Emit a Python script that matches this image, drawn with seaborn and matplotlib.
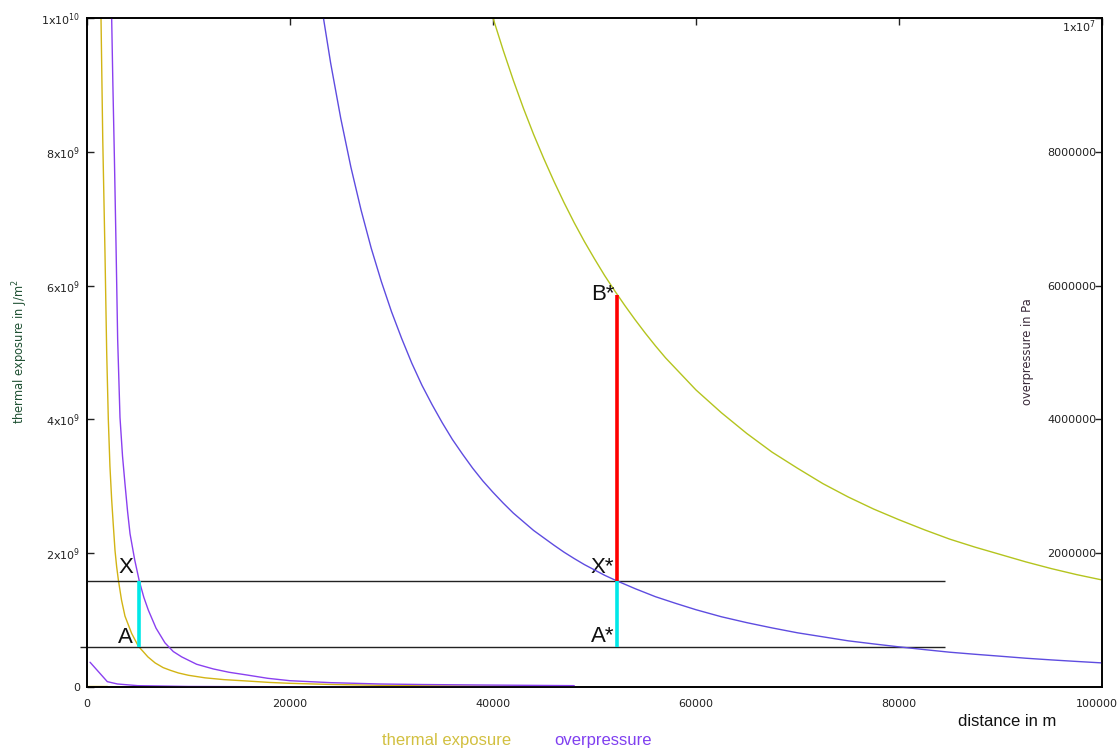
import numpy as np
import pandas as pd
import matplotlib
matplotlib.use("Agg")
import matplotlib.pyplot as plt
import matplotlib.transforms as mtransforms
import seaborn as sns

# ---- data (x in m) ----
# thermal exposure, J/m^2 (left axis)
thermal_near_x = [1200, 1380, 1550, 1770, 1940, 2100, 2260, 2430, 2600, 2760, 2920, 3090,
                  3400, 3740, 4400, 5060, 6000, 6710, 7500, 8200, 9000, 10000, 11630,
                  13500, 15730, 18000, 20000, 24000, 28870, 33000, 38700, 48000]
thermal_near_y = [13.0e9, 10.0e9, 8.2e9, 6.5e9, 5.0e9, 4.0e9, 3.3e9, 2.8e9, 2.4e9, 2.04e9,
                  1.8e9, 1.60e9, 1.3e9, 1.06e9, 0.80e9, 0.61e9, 0.45e9, 0.36e9, 0.29e9,
                  0.25e9, 0.21e9, 0.175e9, 0.137e9, 0.11e9, 0.09e9, 0.068e9, 0.055e9,
                  0.038e9, 0.025e9, 0.018e9, 0.012e9, 0.008e9]
thermal_far_x = [38000, 39000, 40000, 41000, 42000, 43000, 44000, 45000, 46000, 47000,
                 48000, 49000, 50000, 51000, 52000, 53000, 54000, 55000, 56000, 57000,
                 58000, 59000, 60000, 62500, 65000, 67500, 70000, 72500, 75000, 77500,
                 80000, 82500, 85000, 87500, 90000, 92500, 95000, 97500, 100000]
thermal_far_y = [11.08e9, 10.52e9, 10.0e9, 9.52e9, 9.07e9, 8.65e9, 8.26e9, 7.90e9, 7.56e9,
                 7.24e9, 6.94e9, 6.66e9, 6.40e9, 6.15e9, 5.92e9, 5.70e9, 5.49e9, 5.29e9,
                 5.10e9, 4.92e9, 4.76e9, 4.60e9, 4.44e9, 4.10e9, 3.79e9, 3.51e9, 3.27e9,
                 3.04e9, 2.84e9, 2.66e9, 2.50e9, 2.35e9, 2.21e9, 2.09e9, 1.98e9, 1.87e9,
                 1.77e9, 1.68e9, 1.60e9]
thermal_base_x = [100, 2000]
thermal_base_y = [0.02e9, 0.02e9]

# overpressure, Pa (right axis)
press_near_x = [2200, 2430, 2550, 2700, 2860, 3020, 3250, 3500, 3740, 4000, 4240, 4700,
                5150, 5600, 6040, 6800, 7680, 8500, 9330, 10800, 12440, 14000, 15730,
                17800, 20000, 24000, 28870, 33000, 38700, 48000]
press_near_y = [12.0e6, 10.0e6, 9.0e6, 7.9e6, 6.6e6, 5.2e6, 4.03e6, 3.45e6, 3.04e6, 2.62e6,
                2.29e6, 1.90e6, 1.585e6, 1.34e6, 1.15e6, 0.88e6, 0.66e6, 0.53e6, 0.45e6,
                0.34e6, 0.27e6, 0.22e6, 0.18e6, 0.13e6, 0.094e6, 0.065e6, 0.045e6,
                0.037e6, 0.03e6, 0.02e6]
press_far_x = [22000, 23000, 24000, 25000, 26000, 27000, 28000, 29000, 30000, 31000,
               32000, 33000, 34000, 35000, 36000, 37000, 38000, 39000, 40000, 41000,
               42000, 43000, 44000, 45000, 46000, 47000, 48000, 49000, 50000, 51000,
               52000, 54000, 56000, 58000, 60000, 62500, 65000, 67500, 70000, 72500,
               75000, 77500, 80000, 82500, 85000, 87500, 90000, 92500, 95000, 97500,
               100000]
press_far_y = [11.37e6, 10.28e6, 9.33e6, 8.50e6, 7.77e6, 7.13e6, 6.56e6, 6.06e6, 5.61e6,
               5.21e6, 4.84e6, 4.51e6, 4.22e6, 3.95e6, 3.70e6, 3.48e6, 3.27e6, 3.08e6,
               2.91e6, 2.75e6, 2.60e6, 2.47e6, 2.34e6, 2.23e6, 2.12e6, 2.015e6, 1.92e6,
               1.83e6, 1.75e6, 1.67e6, 1.60e6, 1.47e6, 1.35e6, 1.25e6, 1.155e6, 1.05e6,
               0.962e6, 0.883e6, 0.81e6, 0.75e6, 0.69e6, 0.644e6, 0.60e6, 0.559e6,
               0.52e6, 0.489e6, 0.46e6, 0.43e6, 0.405e6, 0.382e6, 0.36e6]
press_tail_x = [300, 2000, 3000, 5000, 10000, 20000, 35000, 48000]
press_tail_y = [0.37e6, 0.08e6, 0.045e6, 0.02e6, 0.008e6, 0.003e6, 0.001e6, 0.0005e6]

# guide lines (left-axis units)
level_A = 0.598e9
level_X = 1.585e9
level_B = 5.86e9
guide_end = 84500
x_near = 5100
x_far = 52200

x_ticks = [0, 20000, 40000, 60000, 80000, 100000]
left_ticks = [0, 2e9, 4e9, 6e9, 8e9, 1e10]
left_labels = ['0', r'$\mathregular{2x10^{9}}$', r'$\mathregular{4x10^{9}}$',
               r'$\mathregular{6x10^{9}}$', r'$\mathregular{8x10^{9}}$',
               r'$\mathregular{1x10^{10}}$']
right_ticks = [2e6, 4e6, 6e6, 8e6, 1e7]
right_labels = ['2000000', '4000000', '6000000', '8000000', r'$\mathregular{1x10^{7}}$']

# colours
c_therm_near = '#d2b414'
c_therm_far = '#b4c41e'
c_press_near = '#8a40f0'
c_press_far = '#5e4ce0'

sns.set_style('white')
plt.rcParams['font.family'] = ['DejaVu Sans']
plt.rcParams['mathtext.fontset'] = 'dejavusans'

fig = plt.figure(figsize=(11.2, 7.49), dpi=100)
ax = fig.add_axes([0.07768, 0.08278, 0.90625, 0.89319])
ax2 = ax.twinx()

def draw(axis, xs, ys, color):
    df = pd.DataFrame({'x': xs, 'y': ys})
    sns.lineplot(data=df, x='x', y='y', ax=axis, color=color, lw=1.0,
                 sort=False, estimator=None)

draw(ax, thermal_near_x, thermal_near_y, c_therm_near)
draw(ax, thermal_far_x, thermal_far_y, c_therm_far)
draw(ax, thermal_base_x, thermal_base_y, c_therm_near)
draw(ax2, press_near_x, press_near_y, c_press_near)
draw(ax2, press_far_x, press_far_y, c_press_far)
draw(ax2, press_tail_x, press_tail_y, c_press_near)

# guide lines
ax2.hlines([level_X / 1000], 0, guide_end, color='#222222', lw=1.0, zorder=1)
ax2.hlines([level_A / 1000], -700, guide_end, color='#222222', lw=1.0, zorder=1,
           clip_on=False)
ax2.vlines([x_near, x_far], level_A / 1000, level_X / 1000, color='#00e8e8', lw=2.6)
ax2.vlines([x_far], level_X / 1000, level_B / 1000, color='#ff0000', lw=2.6)

lab = dict(fontsize=16, family=['Liberation Sans', 'DejaVu Sans'], color='#111111',
           ha='right', va='center')
ax.text(4530, 1.78e9, 'X', **lab)
ax.text(4530, 0.74e9, 'A', **lab)
ax.text(51950, 1.78e9, 'X*', **lab)
ax.text(51950, 0.76e9, 'A*', **lab)
ax.text(51950, 5.86e9, 'B*', **lab)

ax.set_xlim(0, 100000)
ax.set_ylim(0, 1e10)
ax2.set_ylim(0, 1e7)
ax.set_xlabel('')
ax.set_ylabel('')
ax2.set_ylabel('')

ax.set_xticks(x_ticks)
ax.set_xticklabels([str(t) for t in x_ticks])
ax.set_yticks(left_ticks)
ax.set_yticklabels(left_labels)
ax2.set_yticks(right_ticks)
ax2.set_yticklabels(right_labels)

ax.tick_params(axis='x', direction='in', length=5, width=1, top=True, pad=9,
               labelsize=8, colors='#222222')
ax.tick_params(axis='y', direction='in', length=5, width=1, right=False, pad=5,
               labelsize=8, colors='#222222')
ax2.tick_params(axis='y', direction='in', length=5, width=1, pad=-4,
                labelsize=8, colors='#222222')
for t in ax2.get_yticklabels():
    t.set_ha('right')
ax2.get_yticklabels()[-1].set_va('top')

# keep the last x label inside the figure
last = ax.get_xticklabels()[-1]
last.set_ha('right')
last.set_transform(last.get_transform() +
                   mtransforms.ScaledTranslation(16 / 100, 0, fig.dpi_scale_trans))

for a in (ax, ax2):
    for s in a.spines.values():
        s.set_color('black')
        s.set_linewidth(1.2)

fig.text(20 / 1120, 1 - 352 / 749, r'thermal exposure in J/m$^2$', rotation=90,
         ha='center', va='center', fontsize=8.3, color='#1e5032')
fig.text(1028 / 1120, 1 - 352 / 749, 'overpressure in Pa', rotation=90,
         ha='center', va='center', fontsize=8.3, color='#3a2a3a')
fig.text(1007 / 1120, 1 - 721 / 749, 'distance in m', ha='center', va='center',
         fontsize=12, family=['Liberation Sans', 'DejaVu Sans'], color='#111111')
fig.text(447 / 1120, 1 - 740 / 749, 'thermal exposure', ha='center', va='center',
         fontsize=12, family=['Liberation Sans', 'DejaVu Sans'], color='#d2c040')
fig.text(603 / 1120, 1 - 740 / 749, 'overpressure', ha='center', va='center',
         fontsize=12, family=['Liberation Sans', 'DejaVu Sans'], color='#8040f0')

fig.savefig('out.png', dpi=100)
